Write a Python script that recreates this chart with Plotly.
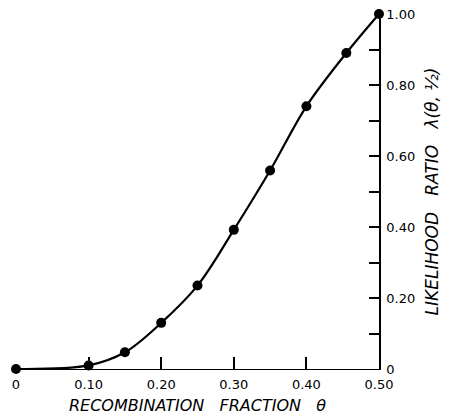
import plotly.graph_objects as go

theta = [0.0, 0.10, 0.15, 0.20, 0.25, 0.30, 0.35, 0.40, 0.455, 0.50]
lam = [0.0, 0.01, 0.047, 0.13, 0.235, 0.392, 0.559, 0.74, 0.89, 1.00]

x_tickvals = [0, 0.1, 0.2, 0.3, 0.4, 0.5]
x_ticktext = ["0", "0.10", "0.20", "0.30", "0.40", "0.50"]
y_tickvals = [0, 0.1, 0.2, 0.3, 0.4, 0.5, 0.6, 0.7, 0.8, 0.9, 1.0]
y_ticktext = ["0", "", "0.20", "", "0.40", "", "0.60", "", "0.80", "", "1.00"]

fig = go.Figure()
fig.add_trace(go.Scatter(
    x=theta, y=lam, mode="lines+markers",
    line=dict(color="black", width=2.2, shape="spline", smoothing=1.0),
    marker=dict(color="black", size=10),
    cliponaxis=False, showlegend=False,
))

tickfont = dict(family="DejaVu Sans", size=13, color="black")
xtitlefont = dict(family="DejaVu Sans", size=16, color="black", style="italic")
ytitlefont = dict(family="DejaVu Sans", size=17, color="black", style="italic")

fig.update_layout(
    width=445, height=408,
    margin=dict(l=8, r=74, t=6, b=47),
    paper_bgcolor="white", plot_bgcolor="white",
    xaxis=dict(
        range=[0, 0.5], tickvals=x_tickvals, ticktext=x_ticktext,
        ticks="inside", ticklen=12, tickwidth=1.5, tickcolor="black",
        showline=True, linecolor="black", linewidth=1,
        showgrid=False, zeroline=False, tickfont=tickfont,
        ticklabelstandoff=3, ticklabeloverflow="allow",
        automargin=False,
        title=dict(text="RECOMBINATION   FRACTION   θ", font=xtitlefont, standoff=9),
    ),
    yaxis=dict(
        range=[0, 1.0], side="right", tickvals=y_tickvals, ticktext=y_ticktext,
        ticks="inside", ticklen=10, tickwidth=1.5, tickcolor="black",
        showline=True, linecolor="black", linewidth=1.5,
        showgrid=False, zeroline=False, tickfont=tickfont,
        ticklabelstandoff=3, ticklabeloverflow="allow", automargin=False,
        title=dict(text="LIKELIHOOD   RATIO   λ(θ, ½)", font=ytitlefont, standoff=12),
    ),
)

fig.write_html("out.html")
